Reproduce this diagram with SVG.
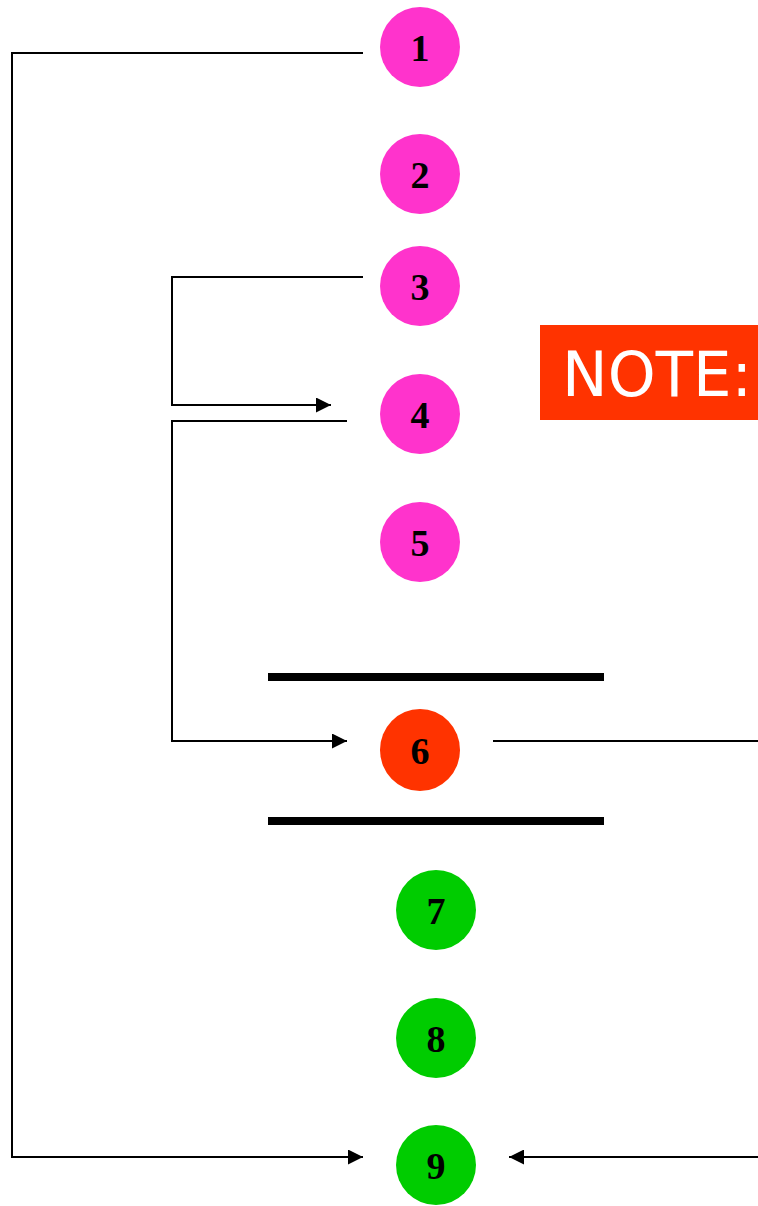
<svg xmlns="http://www.w3.org/2000/svg" width="758" height="1206" viewBox="0 0 758 1206">
<style>
.c{stroke:none}
.p{fill:#FF33CC}
.g{fill:#00CC00}
.r{fill:#FF3300}
.t{font-family:"Liberation Serif",serif;font-weight:bold;font-size:38px;fill:#000;text-anchor:middle}
.ln{fill:none;stroke:#000;stroke-width:2}
.bar{stroke:#000;stroke-width:8}
</style>
<defs>
<marker id="ah" viewBox="0 0 10 10" refX="10" refY="5" markerWidth="15" markerHeight="15" markerUnits="userSpaceOnUse" orient="auto">
<path d="M0,0 L10,5 L0,10 Z" fill="#000"/>
</marker>
</defs>
<rect width="758" height="1206" fill="#fff"/>
<g id="connectors">
<polyline class="ln" points="363,53 12,53 12,1157 363,1157" marker-end="url(#ah)"/>
<polyline class="ln" points="363,277 172,277 172,405 331,405" marker-end="url(#ah)"/>
<polyline class="ln" points="347,421 172,421 172,741 347,741" marker-end="url(#ah)"/>
<line class="ln" x1="493" y1="741" x2="758" y2="741"/>
<line class="ln" x1="758" y1="1157" x2="509" y2="1157" marker-end="url(#ah)"/>
</g>
<g id="bars">
<line class="bar" x1="268" y1="677" x2="604" y2="677"/>
<line class="bar" x1="268" y1="821" x2="604" y2="821"/>
</g>
<g id="n1"><circle class="c p" cx="420" cy="47" r="40"/><text class="t" x="420" y="61">1</text></g>
<g id="n2"><circle class="c p" cx="420" cy="174" r="40"/><text class="t" x="420" y="188">2</text></g>
<g id="n3"><circle class="c p" cx="420" cy="286" r="40"/><text class="t" x="420" y="300">3</text></g>
<g id="n4"><circle class="c p" cx="420" cy="414" r="40"/><text class="t" x="420" y="428">4</text></g>
<g id="n5"><circle class="c p" cx="420" cy="542" r="40"/><text class="t" x="420" y="556">5</text></g>
<g id="n6"><ellipse class="c r" cx="420" cy="750" rx="40" ry="41"/><text class="t" x="420" y="764">6</text></g>
<g id="n7"><circle class="c g" cx="436" cy="910" r="40"/><text class="t" x="436" y="924">7</text></g>
<g id="n8"><circle class="c g" cx="436" cy="1038" r="40"/><text class="t" x="436" y="1052">8</text></g>
<g id="n9"><circle class="c g" cx="436" cy="1165" r="40"/><text class="t" x="436" y="1179">9</text></g>
<g id="note">
<rect x="540" y="325" width="218" height="95" fill="#FF3300"/>
<text x="562" y="396" font-family="'DejaVu Sans',sans-serif" font-size="62" fill="#fff" textLength="190" lengthAdjust="spacingAndGlyphs">NOTE:</text>
</g>
</svg>
